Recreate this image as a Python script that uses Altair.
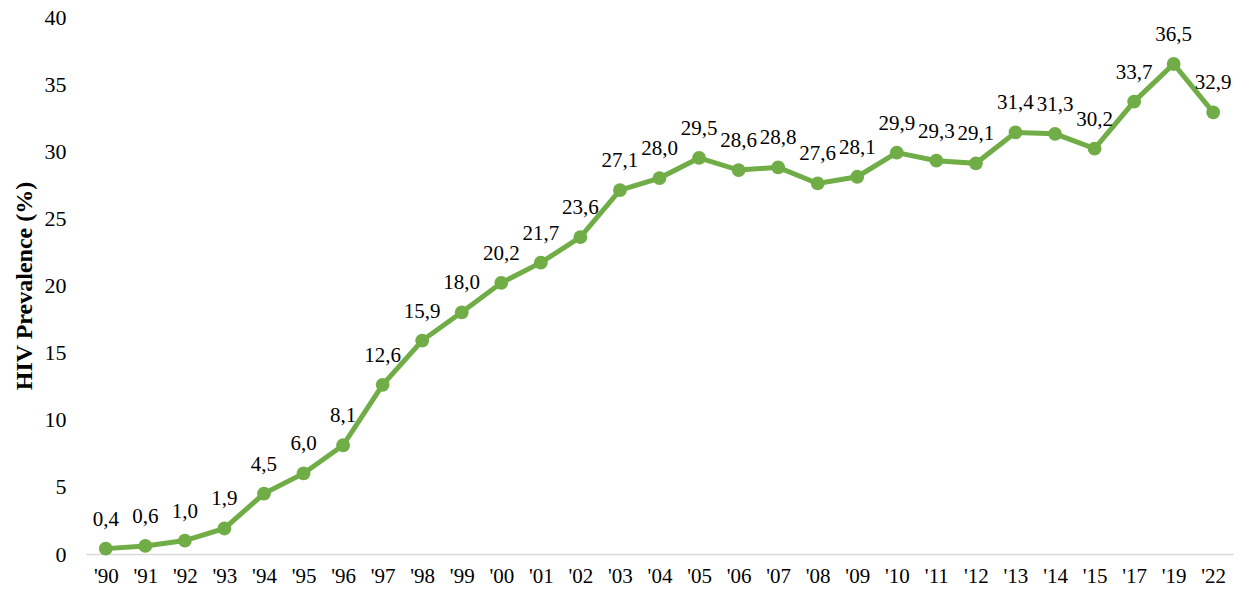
import altair as alt
import pandas as pd

years = ["'90", "'91", "'92", "'93", "'94", "'95", "'96", "'97", "'98", "'99",
         "'00", "'01", "'02", "'03", "'04", "'05", "'06", "'07", "'08", "'09",
         "'10", "'11", "'12", "'13", "'14", "'15", "'17", "'19", "'22"]
prevalence = [0.4, 0.6, 1.0, 1.9, 4.5, 6.0, 8.1, 12.6, 15.9, 18.0,
              20.2, 21.7, 23.6, 27.1, 28.0, 29.5, 28.6, 28.8, 27.6, 28.1,
              29.9, 29.3, 29.1, 31.4, 31.3, 30.2, 33.7, 36.5, 32.9]

df = pd.DataFrame({"year": years, "value": prevalence})
df["label"] = [f"{v:.1f}".replace(".", ",") for v in prevalence]

GREEN = "#70AD47"
FONT = "Liberation Serif"

x = alt.X("year:N", sort=years, title=None,
          scale=alt.Scale(type="point", padding=0.5),
          axis=alt.Axis(labelAngle=0, ticks=False, domainColor="#d9d9d9",
                        domainWidth=1.5, labelPadding=11, labelFontSize=21,
                        labelFont=FONT, labelColor="#000"))
y = alt.Y("value:Q", title="HIV Prevalence (%)",
          scale=alt.Scale(domain=[0, 40], nice=False),
          axis=alt.Axis(values=list(range(0, 41, 5)), grid=False, ticks=False,
                        domain=False, labelPadding=20, labelFontSize=22,
                        labelFont=FONT, labelColor="#000", titleFont=FONT,
                        titleFontSize=24, titleFontWeight="bold",
                        titleColor="#000", titlePadding=8))

base = alt.Chart(df).encode(x=x, y=y)

line = base.mark_line(color=GREEN, strokeWidth=5)
points = base.mark_point(color=GREEN, filled=True, opacity=1, size=190)
labels = base.mark_text(dy=-29, fontSize=21, font=FONT, color="#000").encode(
    text="label:N")

chart = (line + points + labels).properties(
    width=1147, height=537,
    padding={"left": 86, "top": 17, "right": 7, "bottom": 38},
    autosize=alt.AutoSizeParams(type="none"),
    background="white",
).configure_view(stroke=None)

chart.save("out.html", embed_options={"renderer": "svg", "actions": False})
